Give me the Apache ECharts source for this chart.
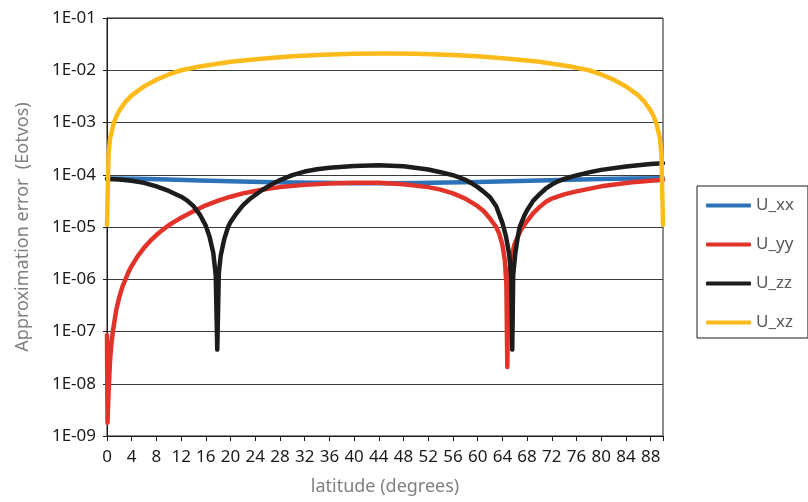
<!DOCTYPE html>
<html>
<head>
<meta charset="utf-8">
<script src="https://cdn.jsdelivr.net/npm/echarts@6/dist/echarts.min.js"></script>
<style>html,body{margin:0;padding:0;background:#fff}#c{width:808px;height:502px}</style>
</head>
<body>
<div id="c"></div>
<script>
// ---- data ----
const seriesNames = ['U_xx', 'U_yy', 'U_zz', 'U_xz'];

const latXX = [0, 5, 10, 15, 20, 25, 30, 35, 40, 45, 50, 55, 60, 65, 70, 75, 80, 85, 90];
const valXX = [8.5e-5, 8.35e-5, 8.1e-5, 7.8e-5, 7.5e-5, 7.3e-5, 7.1e-5, 7.0e-5, 6.9e-5, 6.9e-5, 6.95e-5, 7.1e-5, 7.3e-5, 7.55e-5, 7.8e-5, 8.05e-5, 8.3e-5, 8.5e-5, 8.6e-5];

const latYY = [0, 0.08, 0.25, 0.5, 0.75, 1, 1.5, 2, 2.5, 3, 3.5, 4, 5, 6, 7, 8, 9, 10, 11, 12, 14, 16, 18, 20, 22, 24, 26, 28, 32, 36, 40, 44, 48, 52, 54, 56, 58, 60, 61, 62, 63, 63.5, 64, 64.4, 64.65, 64.8, 64.95, 65.2, 65.5, 66, 67, 68, 69, 70, 71, 72, 74, 76, 80, 85, 90];
const valYY = [8.5e-8, 1.8e-9, 7e-9, 2.9e-8, 6.4e-8, 1.1e-7, 2.6e-7, 4.6e-7, 7.2e-7, 1.0e-6, 1.4e-6, 1.8e-6, 2.8e-6, 4.0e-6, 5.4e-6, 7.0e-6, 8.8e-6, 1.08e-5, 1.28e-5, 1.5e-5, 2.0e-5, 2.6e-5, 3.2e-5, 3.8e-5, 4.4e-5, 4.9e-5, 5.4e-5, 5.8e-5, 6.4e-5, 6.8e-5, 7.0e-5, 7.0e-5, 6.6e-5, 5.8e-5, 5.2e-5, 4.4e-5, 3.5e-5, 2.5e-5, 2.0e-5, 1.45e-5, 1.0e-5, 7.4e-6, 4.6e-6, 2.3e-6, 8e-7, 2.1e-8, 6e-7, 1.6e-6, 2.8e-6, 4.8e-6, 8.8e-6, 1.3e-5, 1.85e-5, 2.4e-5, 3.0e-5, 3.5e-5, 4.2e-5, 4.8e-5, 6.0e-5, 7.2e-5, 8.0e-5];

const latZZ = [0, 2, 4, 6, 8, 10, 12, 13, 14, 15, 16, 16.6, 17.2, 17.6, 17.85, 18.1, 18.4, 19, 19.6, 20, 21, 22, 23, 24, 25, 26, 27, 28, 30, 32, 34, 36, 40, 44, 48, 52, 54, 56, 57, 58, 59, 60, 61, 62, 63, 64, 64.6, 65.1, 65.45, 65.6, 65.75, 66.1, 66.5, 66.8, 67.5, 68, 69, 70, 71, 72, 73, 74, 76, 78, 80, 84, 88, 90];
const valZZ = [8.3e-5, 8.1e-5, 7.7e-5, 7.0e-5, 6.0e-5, 4.9e-5, 3.8e-5, 3.2e-5, 2.5e-5, 1.75e-5, 1.05e-5, 6.5e-6, 3.2e-6, 1.2e-6, 4.5e-8, 1.3e-6, 2.8e-6, 6.0e-6, 1.0e-5, 1.25e-5, 1.85e-5, 2.6e-5, 3.35e-5, 4.1e-5, 5.0e-5, 5.9e-5, 6.9e-5, 7.9e-5, 9.8e-5, 1.15e-4, 1.27e-4, 1.36e-4, 1.47e-4, 1.52e-4, 1.45e-4, 1.26e-4, 1.12e-4, 9.8e-5, 8.9e-5, 8.0e-5, 6.9e-5, 5.8e-5, 4.7e-5, 3.7e-5, 2.5e-5, 1.2e-5, 6.5e-6, 3e-6, 1.1e-6, 4.5e-8, 1.2e-6, 3.2e-6, 6.5e-6, 1.0e-5, 1.6e-5, 2.1e-5, 3.2e-5, 4.2e-5, 5.4e-5, 6.5e-5, 7.5e-5, 8.3e-5, 9.7e-5, 1.11e-4, 1.24e-4, 1.44e-4, 1.6e-4, 1.66e-4];

const latXZ = [0, 0.25, 0.5, 1, 1.5, 2, 3, 4, 6, 8, 10, 12, 15, 20, 25, 30, 35, 40, 45, 50, 55, 60, 65, 70, 75, 78, 80, 82, 84, 86, 87, 88, 88.5, 89, 89.5, 89.75, 90];
const valXZ = [1.1e-5, 2.5e-4, 5e-4, 9e-4, 1.3e-3, 1.7e-3, 2.5e-3, 3.3e-3, 4.9e-3, 6.6e-3, 8.3e-3, 1.0e-2, 1.18e-2, 1.45e-2, 1.66e-2, 1.85e-2, 1.98e-2, 2.07e-2, 2.1e-2, 2.07e-2, 1.98e-2, 1.85e-2, 1.66e-2, 1.45e-2, 1.18e-2, 1.0e-2, 8.3e-3, 6.6e-3, 4.9e-3, 3.3e-3, 2.5e-3, 1.7e-3, 1.3e-3, 9e-4, 5e-4, 2.5e-4, 1.1e-5];

const xTickMin = 0, xTickMax = 90, xTickStep = 4;
const yMin = 1e-9, yMax = 1e-1;
const xTitle = 'latitude (degrees)';
const yTitle = 'Approximation error  (Eotvos)';

// ---- chart ----
const colors = ['#2C72B8', '#E2332A', '#1C1C1C', '#FDBA1B'];
const lats = [latXX, latYY, latZZ, latXZ];
const vals = [valXX, valYY, valZZ, valXZ];
const FONT = 'Noto Sans';

function pairs(xs, ys) { return xs.map((x, i) => [x, ys[i]]); }
function sciLabel(v) {
  const e = Math.round(Math.log10(v));
  return '1E' + (e < 0 ? '-' : '+') + String(Math.abs(e)).padStart(2, '0');
}

const chart = echarts.init(document.getElementById('c'), null, { renderer: 'canvas' });
chart.setOption({
  animation: false,
  backgroundColor: '#fff',
  grid: { left: 107, right: 145, top: 18, bottom: 66, show: true, borderColor: '#1a1a1a', borderWidth: 1 },
  legend: {
    orient: 'vertical',
    left: 697, top: 186,
    data: seriesNames.map(n => ({ name: n, icon: 'roundRect' })),
    itemWidth: 45, itemHeight: 4, itemGap: 22,
    padding: [11, 14, 7, 9],
    borderColor: '#1a1a1a', borderWidth: 1,
    textStyle: { fontFamily: FONT, fontSize: 17, color: '#595959', lineHeight: 14 }
  },
  xAxis: {
    type: 'value', min: xTickMin, max: xTickMax, interval: xTickStep,
    name: xTitle, nameLocation: 'middle', nameGap: 42,
    nameTextStyle: { fontFamily: FONT, fontSize: 18, color: '#808080' },
    axisLine: { show: true, lineStyle: { color: '#1a1a1a', width: 1 } },
    axisTick: { show: true, inside: false, length: 5, lineStyle: { color: '#1a1a1a' } },
    axisLabel: { fontFamily: FONT, fontSize: 17, color: '#1a1a1a', margin: 13,
      formatter: v => (v > 88 ? '' : String(v)) },
    splitLine: { show: false }
  },
  yAxis: {
    type: 'log', logBase: 10, min: yMin, max: yMax, interval: 1, splitNumber: 8,
    name: yTitle, nameLocation: 'middle', nameGap: 75,
    nameTextStyle: { fontFamily: FONT, fontSize: 18, color: '#808080' },
    axisLine: { show: true, lineStyle: { color: '#1a1a1a', width: 1 } },
    axisTick: { show: true, length: 4, lineStyle: { color: '#1a1a1a' } },
    minorTick: { show: false },
    axisLabel: { fontFamily: FONT, fontSize: 17, color: '#1a1a1a', margin: 11, formatter: sciLabel },
    splitLine: { show: true, lineStyle: { color: '#3a3a3a', width: 1.2 } }
  },
  series: seriesNames.map((n, i) => ({
    name: n, type: 'line', data: pairs(lats[i], vals[i]),
    symbol: 'none', showSymbol: false, smooth: false,
    color: colors[i],
    itemStyle: { color: colors[i] },
    lineStyle: { color: colors[i], width: 4.5, cap: 'round', join: 'round' },
    z: 2 + i
  }))
});
</script>
</body>
</html>
